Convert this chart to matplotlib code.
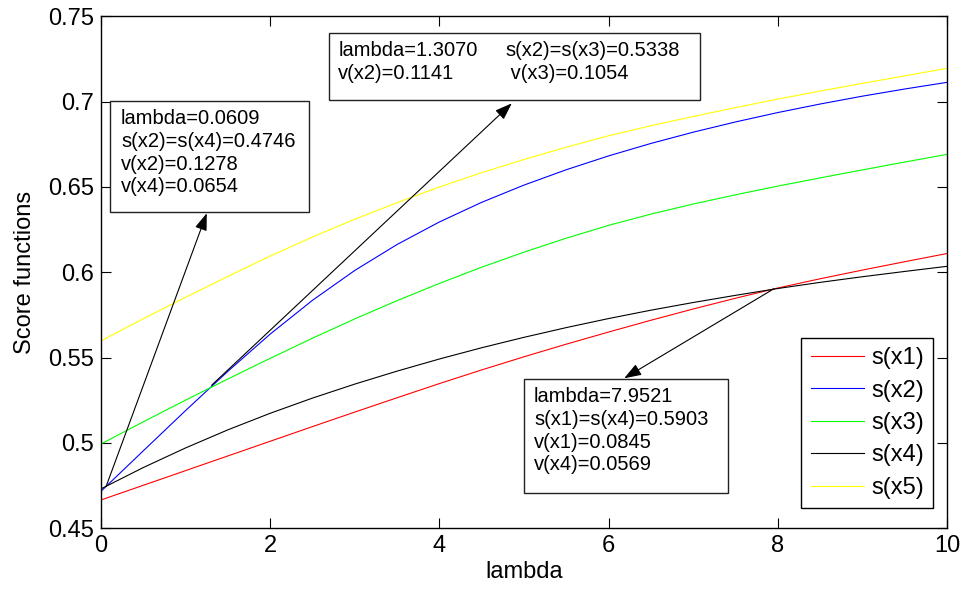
import matplotlib
matplotlib.use('Agg')
import matplotlib.pyplot as plt
from matplotlib.patches import Rectangle

plt.rcParams['font.family'] = ['Liberation Sans', 'DejaVu Sans']

# values every 0.5 in lambda
lam = [0, 0.5, 1, 1.5, 2, 2.5, 3, 3.5, 4, 4.5, 5,
       5.5, 6, 6.5, 7, 7.5, 8, 8.5, 9, 9.5, 10]
s1 = [0.4666, 0.4752, 0.4838, 0.4924, 0.5010, 0.5096, 0.5181, 0.5265, 0.5348, 0.5428, 0.5505,
      0.5579, 0.5650, 0.5719, 0.5785, 0.5848, 0.5908, 0.5962, 0.6013, 0.6062, 0.6110]
s2 = [0.4717, 0.4954, 0.5190, 0.5420, 0.5638, 0.5836, 0.6011, 0.6163, 0.6295, 0.6410, 0.6511,
      0.6601, 0.6682, 0.6755, 0.6821, 0.6881, 0.6936, 0.6986, 0.7032, 0.7074, 0.7113]
s3 = [0.4994, 0.5124, 0.5251, 0.5375, 0.5496, 0.5614, 0.5727, 0.5834, 0.5935, 0.6030, 0.6118,
      0.6200, 0.6275, 0.6341, 0.6400, 0.6454, 0.6505, 0.6553, 0.6600, 0.6646, 0.6691]
s4 = [0.4731, 0.4856, 0.4971, 0.5077, 0.5174, 0.5263, 0.5345, 0.5421, 0.5492, 0.5558, 0.5619,
      0.5676, 0.5729, 0.5778, 0.5823, 0.5865, 0.5905, 0.5941, 0.5974, 0.6005, 0.6035]
s5 = [0.5598, 0.5728, 0.5854, 0.5976, 0.6095, 0.6207, 0.6311, 0.6408, 0.6500, 0.6584, 0.6661,
      0.6733, 0.6800, 0.6859, 0.6913, 0.6965, 0.7015, 0.7062, 0.7107, 0.7151, 0.7195]
labels = ['s(x1)', 's(x2)', 's(x3)', 's(x4)', 's(x5)']
colors = ['#ff0000', '#0000ff', '#00ff00', '#000000', '#ffff00']

# crossing points written in the text boxes
cross1 = (0.0609, 0.4746)
cross2 = (1.3070, 0.5338)
cross3 = (7.9521, 0.5903)
text1 = 'lambda=0.0609\ns(x2)=s(x4)=0.4746\nv(x2)=0.1278\nv(x4)=0.0654'
text2a = 'lambda=1.3070\nv(x2)=0.1141'
text2b = 's(x2)=s(x3)=0.5338\n v(x3)=0.1054'
text3 = 'lambda=7.9521\ns(x1)=s(x4)=0.5903\nv(x1)=0.0845\nv(x4)=0.0569'

W, H = 961, 591
fig = plt.figure(figsize=(W / 100, H / 100), dpi=100)
ax = fig.add_axes([101 / W, 1 - 528.3 / H, 846 / W, 512 / H])

for s, lab, c in zip([s1, s2, s3, s4, s5], labels, colors):
    ax.plot(lam, s, color=c, lw=0.8, label=lab)

ax.set_xlim(0, 10)
ax.set_ylim(0.45, 0.75)
ax.set_xticks([0, 2, 4, 6, 8, 10])
ax.set_yticks([0.45, 0.5, 0.55, 0.6, 0.65, 0.7, 0.75])
ax.set_yticklabels(['0.45', '0.5', '0.55', '0.6', '0.65', '0.7', '0.75'])
ax.tick_params(direction='in', length=7, width=0.8, top=True, right=True,
               labelsize=17, pad=5)
for sp in ax.spines.values():
    sp.set_linewidth(1.0)
ax.set_xlabel('lambda', fontsize=17, labelpad=3)
ax.set_ylabel('Score functions', fontsize=17, labelpad=9)

# text boxes (axes fraction)
def box(x0, y0, w, h):
    ax.add_patch(Rectangle((x0, y0), w, h, transform=ax.transAxes,
                           facecolor='white', edgecolor='#222222', lw=1.0, zorder=5))

box(0.0106, 0.6178, 0.2352, 0.2168)
box(0.2695, 0.8365, 0.4385, 0.1303)
box(0.5000, 0.0684, 0.2408, 0.2227)

tkw = dict(transform=ax.transAxes, ha='left', va='top', fontsize=14.5,
           linespacing=1.24, zorder=6)
ax.text(0.0236, 0.818, text1, **tkw)
ax.text(0.2805, 0.951, text2a, **tkw)
ax.text(0.4775, 0.951, text2b, **tkw)
ax.text(0.5118, 0.275, text3, **tkw)

akw = dict(arrowstyle='-|>,head_length=0.7,head_width=0.25', color='k', lw=0.8,
           mutation_scale=15, shrinkA=0, shrinkB=0)
ax.annotate('', xy=(1.25, 0.6346), xytext=cross1, arrowprops=akw, zorder=7)
ax.annotate('', xy=(4.856, 0.699), xytext=cross2, arrowprops=akw, zorder=7)
ax.annotate('', xy=(6.184, 0.5379), xytext=cross3, arrowprops=akw, zorder=7)

leg = ax.legend(loc='lower right', bbox_to_anchor=(0.9838, 0.039), borderaxespad=0,
                fontsize=17, handlelength=2.25, handletextpad=0.3, labelspacing=0.44,
                borderpad=0.4, fancybox=False, framealpha=1, edgecolor='k')
leg.get_frame().set_linewidth(1.0)

fig.savefig('out.png', dpi=100)
